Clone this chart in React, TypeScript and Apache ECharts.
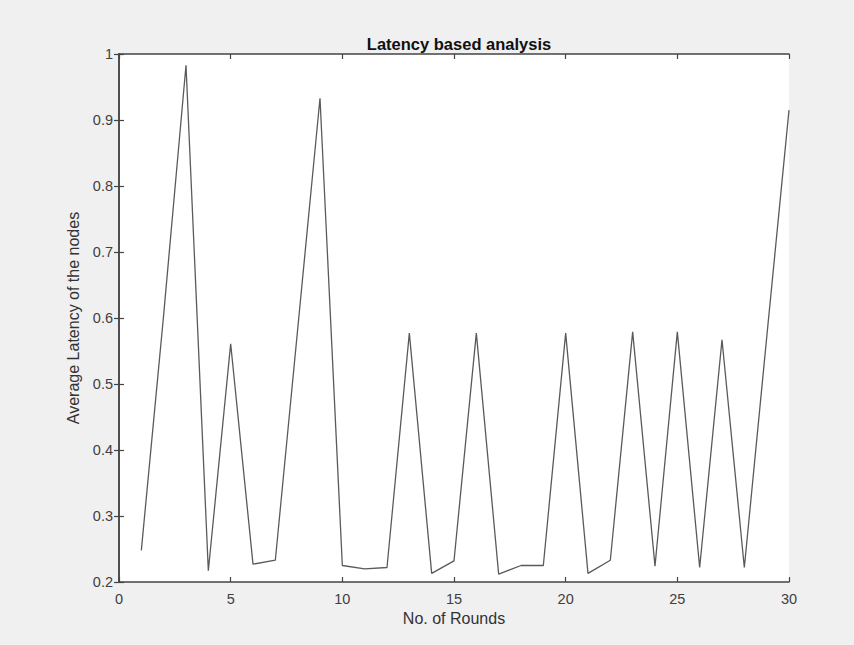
import React, { useEffect, useRef } from "react";
import * as echarts from "echarts";

const rounds = [1,2,3,4,5,6,7,8,9,10,11,12,13,14,15,16,17,18,19,20,21,22,23,24,25,26,27,28,29,30];
const latency = [0.248,0.605,0.983,0.217,0.561,0.227,0.233,0.583,0.933,0.225,0.220,0.222,0.577,0.213,0.232,0.577,0.212,0.225,0.225,0.577,0.213,0.233,0.579,0.224,0.579,0.222,0.567,0.222,0.57,0.915];

const titleText = "Latency based analysis";
const xName = "No. of Rounds";
const yName = "Average Latency of the nodes";

export default function App() {
  const ref = useRef<HTMLDivElement>(null);
  useEffect(() => {
    if (!ref.current) return;
    const chart = echarts.init(ref.current, undefined, { renderer: "svg" });
    const font = "Liberation Sans, Arial, Helvetica, sans-serif";
    const axisLine = { show: true, lineStyle: { color: "#444", width: 1.5 } };
    const tick = { show: true, inside: true, length: 5, lineStyle: { color: "#444", width: 1.2 } };
    const labelStyle = { color: "#404040", fontSize: 14.5, fontFamily: font };
    chart.setOption({
      animation: false,
      backgroundColor: "#f0f0f0",
      title: {
        text: titleText,
        left: 454,
        top: 30,
        textAlign: "center",
        textStyle: { fontSize: 16.5, fontWeight: "bold", color: "#111", fontFamily: font },
      },
      grid: {
        left: 119, right: 65, top: 54, bottom: 63,
        show: true, backgroundColor: "#ffffff", borderWidth: 0,
      },
      xAxis: [
        {
          type: "value", min: 0, max: 30, interval: 5, position: "bottom",
          name: xName, nameLocation: "middle", nameGap: 27,
          nameTextStyle: { color: "#333", fontSize: 16, fontFamily: font },
          axisLine, axisTick: tick, splitLine: { show: false },
          axisLabel: { ...labelStyle, margin: 9 },
        },
        {
          type: "value", min: 0, max: 30, interval: 5, position: "top",
          axisLine, axisTick: tick, splitLine: { show: false }, axisLabel: { show: false },
        },
      ],
      yAxis: [
        {
          type: "value", min: 0.2, max: 1, interval: 0.1, position: "left",
          name: yName, nameLocation: "middle", nameGap: 34,
          nameTextStyle: { color: "#333", fontSize: 16, fontFamily: font },
          axisLine, axisTick: tick, splitLine: { show: false },
          axisLabel: { ...labelStyle, margin: 6, formatter: (v: number) => String(Math.round(v * 10) / 10) },
        },
        {
          type: "value", min: 0.2, max: 1, interval: 0.1, position: "right",
          axisLine, axisTick: tick, splitLine: { show: false }, axisLabel: { show: false },
        },
      ],
      series: [
        {
          type: "line",
          data: rounds.map((r, i) => [r, latency[i]]),
          showSymbol: false,
          symbol: "none",
          lineStyle: { color: "#5a5a5a", width: 1.3 },
        },
      ],
    });
    return () => chart.dispose();
  }, []);
  return <div ref={ref} style={{ position: "fixed", left: 0, top: 0, width: 854, height: 645 }} />;
}
